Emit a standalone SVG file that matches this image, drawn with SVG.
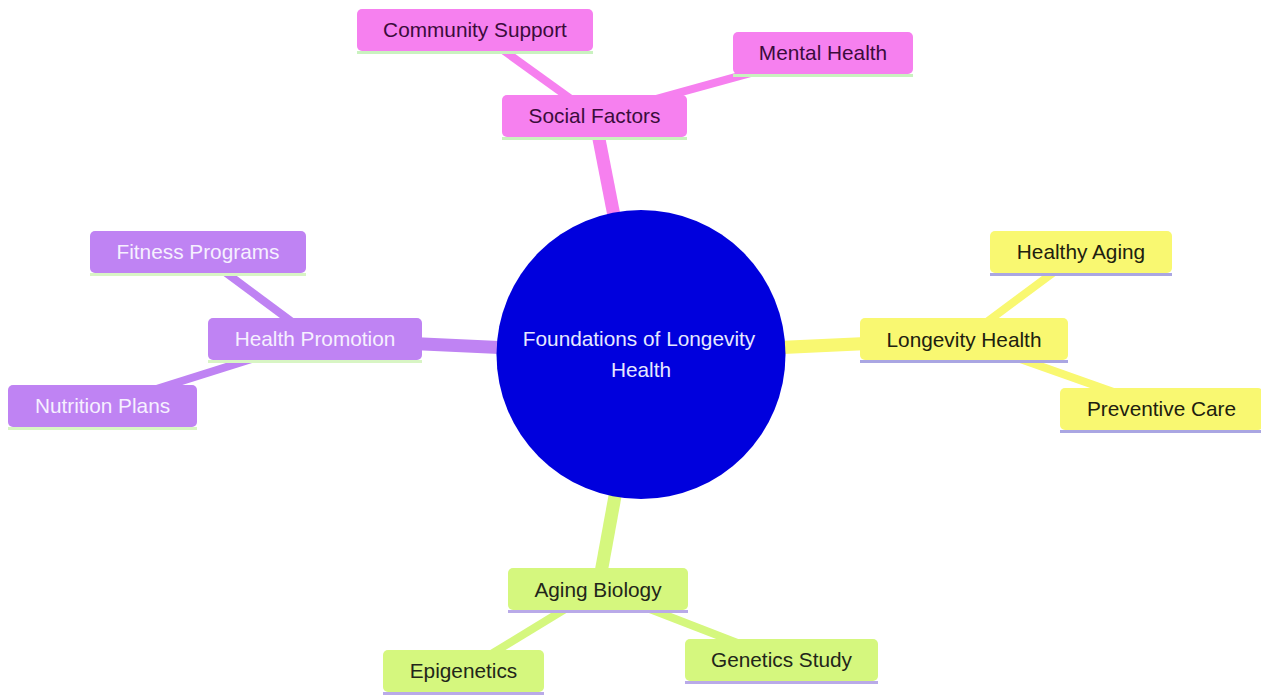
<svg xmlns="http://www.w3.org/2000/svg" width="1261" height="697" viewBox="0 0 1261 697">
<style>
text{font-family:"Liberation Sans",Arial,sans-serif;font-size:20.8px;text-anchor:middle}
.pk rect{fill:#f680ef}.pk text{fill:#3b0c3b}.pk line{stroke:#c9f2bf}
.pu rect{fill:#bf83f3}.pu text{fill:#f6f0ff}.pu line{stroke:#d8f5c4}
.ye rect{fill:#f9f871}.ye text{fill:#20200f}.ye line{stroke:#aaa6e2}
.gr rect{fill:#d5f77e}.gr text{fill:#22261a}.gr line{stroke:#b9aae8}
.nl{stroke-width:3}
.e0{stroke-width:13;stroke-linecap:butt}
.e1{stroke-width:8;stroke-linecap:butt}
.epk{stroke:#f680ef}.epu{stroke:#bf83f3}.eye{stroke:#f9f871}.egr{stroke:#d5f77e}
</style>
<rect width="1261" height="697" fill="#ffffff"/>
<g id="connectors">
<line class="e0 epk" x1="641" y1="354" x2="594.5" y2="116"/>
<line class="e1 epk" x1="594.5" y1="116" x2="475" y2="30"/>
<line class="e1 epk" x1="594.5" y1="116" x2="823" y2="53"/>
<line class="e0 epu" x1="641" y1="354" x2="315" y2="339"/>
<line class="e1 epu" x1="315" y1="339" x2="198" y2="252"/>
<line class="e1 epu" x1="315" y1="339" x2="102.5" y2="406"/>
<line class="e0 eye" x1="641" y1="354" x2="964" y2="339"/>
<line class="e1 eye" x1="964" y1="339" x2="1081" y2="252"/>
<line class="e1 eye" x1="964" y1="339" x2="1161.5" y2="409"/>
<line class="e0 egr" x1="641" y1="354" x2="598" y2="589"/>
<line class="e1 egr" x1="598" y1="589" x2="463.5" y2="671"/>
<line class="e1 egr" x1="598" y1="589" x2="781.5" y2="660"/>
</g>
<g id="root">
<circle cx="641" cy="354.5" r="144.5" fill="#0000dd"/>
<text x="639" y="346" fill="#e6e8ff">Foundations of Longevity</text>
<text x="641" y="377" fill="#e6e8ff">Health</text>
</g>
<g id="social-factors" class="pk"><rect x="502" y="95" width="185" height="42" rx="5"/><line class="nl" x1="502" y1="138.5" x2="687" y2="138.5"/><text x="594.5" y="123">Social Factors</text></g>
<g id="community-support" class="pk"><rect x="357" y="9" width="236" height="42" rx="5"/><line class="nl" x1="357" y1="52.5" x2="593" y2="52.5"/><text x="475" y="37">Community Support</text></g>
<g id="mental-health" class="pk"><rect x="733" y="32" width="180" height="42" rx="5"/><line class="nl" x1="733" y1="75.5" x2="913" y2="75.5"/><text x="823" y="60">Mental Health</text></g>
<g id="health-promotion" class="pu"><rect x="208" y="318" width="214" height="42" rx="5"/><line class="nl" x1="208" y1="361.5" x2="422" y2="361.5"/><text x="315" y="346">Health Promotion</text></g>
<g id="fitness-programs" class="pu"><rect x="90" y="231" width="216" height="42" rx="5"/><line class="nl" x1="90" y1="274.5" x2="306" y2="274.5"/><text x="198" y="259">Fitness Programs</text></g>
<g id="nutrition-plans" class="pu"><rect x="8" y="385" width="189" height="42" rx="5"/><line class="nl" x1="8" y1="428.5" x2="197" y2="428.5"/><text x="102.5" y="413">Nutrition Plans</text></g>
<g id="longevity-health" class="ye"><rect x="860" y="318" width="208" height="42" rx="5"/><line class="nl" x1="860" y1="361.5" x2="1068" y2="361.5"/><text x="964" y="347">Longevity Health</text></g>
<g id="healthy-aging" class="ye"><rect x="990" y="231" width="182" height="42" rx="5"/><line class="nl" x1="990" y1="274.5" x2="1172" y2="274.5"/><text x="1081" y="259">Healthy Aging</text></g>
<g id="preventive-care" class="ye"><rect x="1060" y="388" width="203" height="42" rx="5"/><line class="nl" x1="1060" y1="431.5" x2="1263" y2="431.5"/><text x="1161.5" y="416">Preventive Care</text></g>
<g id="aging-biology" class="gr"><rect x="508" y="568" width="180" height="42" rx="5"/><line class="nl" x1="508" y1="611.5" x2="688" y2="611.5"/><text x="598" y="597">Aging Biology</text></g>
<g id="epigenetics" class="gr"><rect x="383" y="650" width="161" height="42" rx="5"/><line class="nl" x1="383" y1="693.5" x2="544" y2="693.5"/><text x="463.5" y="678">Epigenetics</text></g>
<g id="genetics-study" class="gr"><rect x="685" y="639" width="193" height="42" rx="5"/><line class="nl" x1="685" y1="682.5" x2="878" y2="682.5"/><text x="781.5" y="667">Genetics Study</text></g>
</svg>
